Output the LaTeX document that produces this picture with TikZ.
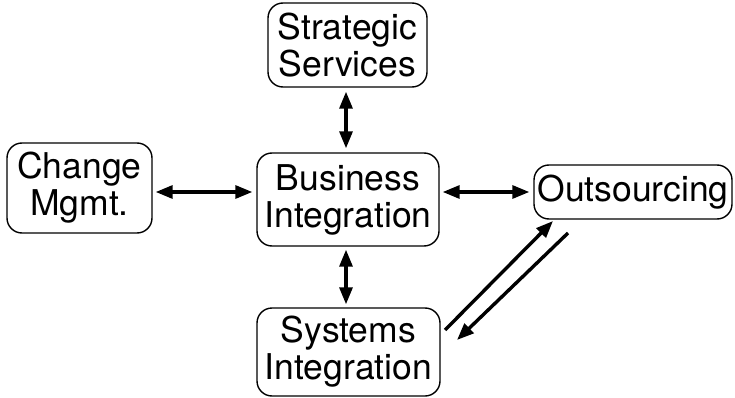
\documentclass[tikz,border=0pt]{standalone}
\usepackage{fontspec}
\setmainfont{TeX Gyre Heros}
\usetikzlibrary{arrows.meta}
\begin{document}
\begin{tikzpicture}[x=1pt,y=-1pt,
  box/.style={draw,line width=1.4pt,rounded corners=15pt,align=center,inner sep=0pt,
    font=\fontsize{35.5}{37}\selectfont},
  link/.style={line width=3.2pt,{Triangle[length=17pt 0,width=13pt 0]}-{Triangle[length=17pt 0,width=13pt 0]}},
  oneway/.style={line width=3.4pt,-{Triangle[length=17pt 0,width=13pt 0]}}]
\useasboundingbox (0,0) rectangle (735,398);
\node[box,minimum width=159pt,minimum height=84pt] (SS) at (347.5,45) {Strategic\\Services};
\node[box,minimum width=182pt,minimum height=93pt] (BI) at (348,199.5) {Business\\Integration};
\node[box,minimum width=183pt,minimum height=88pt] (SI) at (348.5,352) {Systems\\Integration};
\node[box,minimum width=145pt,minimum height=90pt] (CM) at (79.5,188) {Change\\Mgmt.};
\node[box,minimum width=198pt,minimum height=54pt] (OS) at (633,192) {Outsourcing};
\draw[link,shorten <=4pt,shorten >=4pt] (SS.south -| 346,0) -- (BI.north -| 346,0);
\draw[link,shorten <=3pt,shorten >=3pt] (BI.south -| 346,0) -- (SI.north -| 346,0);
\draw[link,shorten <=3pt,shorten >=4pt] (CM.east |- OS) -- (BI.west |- OS);
\draw[link,shorten <=3pt,shorten >=4pt] (BI.east |- OS) -- (OS.west);
\coordinate (u1) at (445,330);
\coordinate (u2) at (553,221);
\coordinate (d1) at (568,233);
\coordinate (d2) at (457,340);
\draw[oneway] (u1) -- (u2);
\draw[oneway] (d1) -- (d2);
\end{tikzpicture}
\end{document}
